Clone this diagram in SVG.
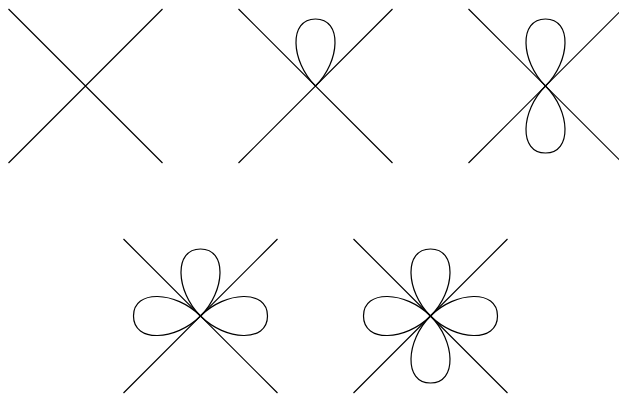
<svg xmlns="http://www.w3.org/2000/svg" xmlns:xlink="http://www.w3.org/1999/xlink" width="619" height="394" viewBox="0 0 619 394">
<style>
.ln{stroke:#000;stroke-width:1.2;fill:none}
.pt{stroke:#000;stroke-width:1.2;fill:none}
</style>
<defs>
<path id="cross" d="M-77,-77 L77,77 M77,-77 L-77,77"/>
<path id="petal" d="M0,0 C25,-25 27,-67 0,-67 C-27,-67 -25,-25 0,0 Z"/>
</defs>
<rect width="619" height="394" fill="#fff"/>
<g id="fig1" transform="translate(85.5,86)">
<use href="#cross" class="ln"/>
</g>
<g id="fig2" transform="translate(315.5,86)">
<use href="#cross" class="ln"/>
<use href="#petal" class="pt"/>
</g>
<g id="fig3" transform="translate(545.5,86)">
<use href="#cross" class="ln"/>
<use href="#petal" class="pt"/>
<use href="#petal" class="pt" transform="rotate(180)"/>
</g>
<g id="fig4" transform="translate(200.5,316)">
<use href="#cross" class="ln"/>
<use href="#petal" class="pt"/>
<use href="#petal" class="pt" transform="rotate(90)"/>
<use href="#petal" class="pt" transform="rotate(-90)"/>
</g>
<g id="fig5" transform="translate(430.5,316)">
<use href="#cross" class="ln"/>
<use href="#petal" class="pt"/>
<use href="#petal" class="pt" transform="rotate(90)"/>
<use href="#petal" class="pt" transform="rotate(180)"/>
<use href="#petal" class="pt" transform="rotate(-90)"/>
</g>
</svg>
